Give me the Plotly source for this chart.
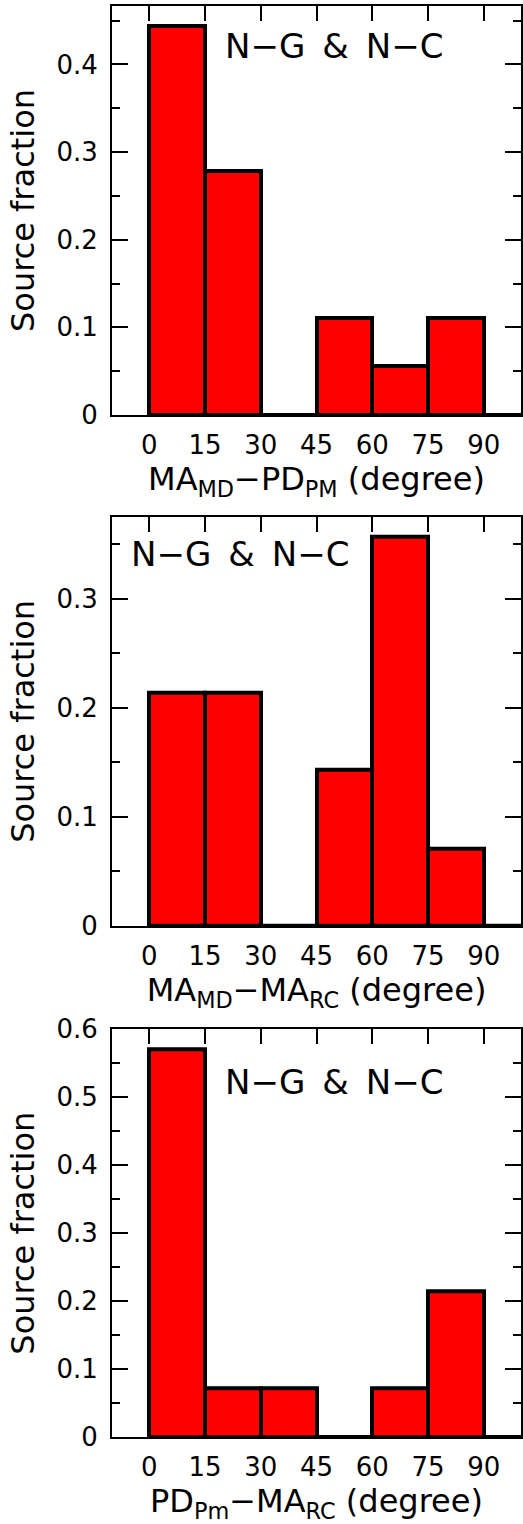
import plotly.graph_objects as go

# ---- data ----
bin_left = [0, 15, 30, 45, 60, 75, 90]
bin_width = 15
frac_md_pm = [0.444, 0.278, 0.0, 0.111, 0.056, 0.111, 0.0]
frac_md_rc = [0.214, 0.214, 0.0, 0.143, 0.357, 0.071, 0.0]
frac_pm_rc = [0.571, 0.071, 0.071, 0.0, 0.071, 0.214, 0.0]

x_tickvals = [0, 15, 30, 45, 60, 75, 90]
x_ticktext = ["0", "15", "30", "45", "60", "75", "90"]
y_ticks_1 = [0, 0.1, 0.2, 0.3, 0.4]
y_ticks_2 = [0, 0.1, 0.2, 0.3]
y_ticks_3 = [0, 0.1, 0.2, 0.3, 0.4, 0.5, 0.6]
y_labels_1 = ["0", "0.1", "0.2", "0.3", "0.4"]
y_labels_2 = ["0", "0.1", "0.2", "0.3"]
y_labels_3 = ["0", "0.1", "0.2", "0.3", "0.4", "0.5", "0.6"]
y_max = [0.4667, 0.375, 0.6]

x_titles = [
    "MA<sub>MD</sub>−PD<sub>PM</sub> (degree)",
    "MA<sub>MD</sub>−MA<sub>RC</sub> (degree)",
    "PD<sub>Pm</sub>−MA<sub>RC</sub> (degree)",
]
label_text = "N−G\u2002&amp;\u2002N−C"

panels = [
    (frac_md_pm, y_ticks_1, y_labels_1),
    (frac_md_rc, y_ticks_2, y_labels_2),
    (frac_pm_rc, y_ticks_3, y_labels_3),
]

# ---- layout geometry ----
domains = [[0.7142, 1.0], [0.3571, 0.6431], [0.0, 0.2849]]
label_pos = [(0.271, 0.9015), (0.042, 0.909), (0.271, 0.871)]

FONT = "DejaVu Sans"
fig = go.Figure()

for i, (vals, yt, yl) in enumerate(panels):
    n = "" if i == 0 else str(i + 1)
    xa, ya = "x" + n, "y" + n
    centers = [b + bin_width / 2 for b in bin_left]
    fig.add_trace(go.Bar(
        x=centers, y=vals, width=bin_width,
        marker=dict(color="#FF0000", line=dict(color="black", width=4)),
        xaxis=xa, yaxis=ya, showlegend=False, hoverinfo="skip",
    ))
    # outline for empty bins (zero-height bars are not stroked by plotly)
    zx, zy = [], []
    for b, v in zip(bin_left, vals):
        if v == 0:
            zx += [b, b + bin_width, None]
            zy += [0, 0, None]
    fig.add_trace(go.Scatter(
        x=zx, y=zy, mode="lines", line=dict(color="black", width=4),
        xaxis=xa, yaxis=ya, showlegend=False, hoverinfo="skip",
    ))

    common = dict(showgrid=False, zeroline=False, showline=True, linecolor="black",
                  linewidth=2, mirror="ticks", ticks="inside", tickcolor="black",
                  automargin=False,
                  tickfont=dict(family=FONT, size=26, color="black"))
    fig.layout["xaxis" + n] = dict(
        common, domain=[0, 1], anchor=ya, range=[-10, 100],
        tickvals=x_tickvals, ticktext=x_ticktext, ticklen=15, tickwidth=2,
        ticklabelstandoff=6,
        title=dict(text=x_titles[i], font=dict(family=FONT, size=32, color="black"),
                   standoff=4),
    )
    fig.layout["yaxis" + n] = dict(
        common, domain=domains[i], anchor=xa, range=[0, y_max[i]],
        tickvals=yt, ticktext=yl, ticklen=16, tickwidth=2,
        ticklabelstandoff=7,
        minor=dict(dtick=0.05, ticklen=8, tickwidth=2, ticks="inside", tickcolor="black",
                   showgrid=False),
        title=dict(text="Source fraction", font=dict(family=FONT, size=32, color="black"),
                   standoff=12),
    )
    fig.add_annotation(
        text=label_text, xref=xa + " domain", yref=ya + " domain",
        x=label_pos[i][0], y=label_pos[i][1], xanchor="left", yanchor="middle",
        showarrow=False, font=dict(family=FONT, size=34, color="black"),
    )

fig.update_layout(
    width=523, height=1524, margin=dict(l=112, r=2, t=6, b=87, autoexpand=False),
    paper_bgcolor="white", plot_bgcolor="white", bargap=0,
)
fig.write_html("out.html", config={"displayModeBar": False},
               post_script="document.body.style.margin='0';")
